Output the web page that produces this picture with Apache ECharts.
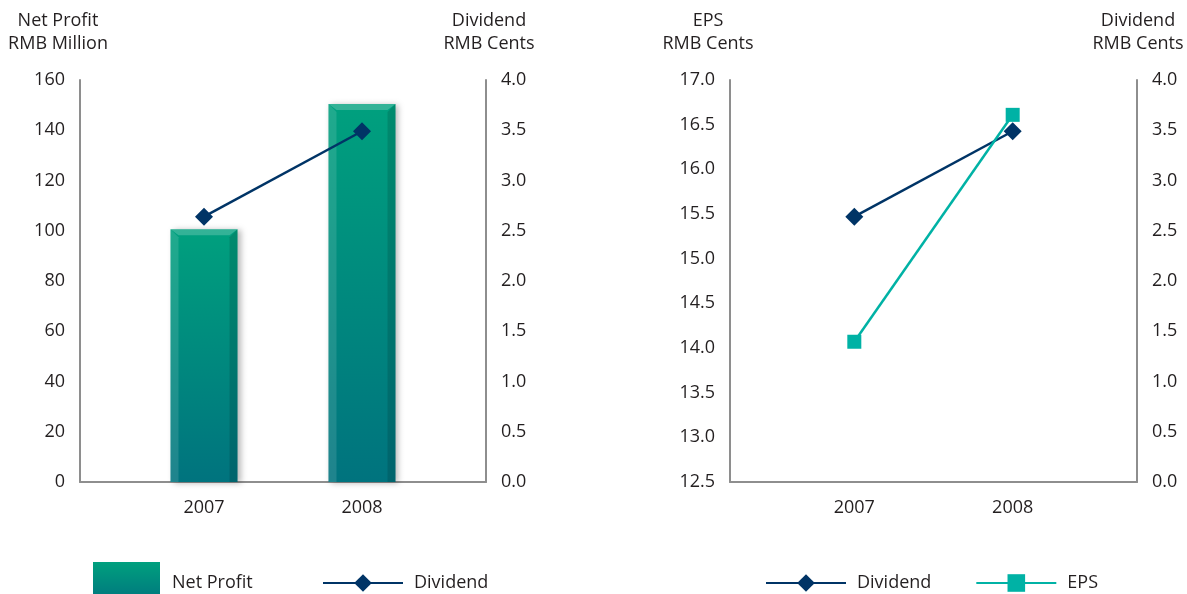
<!DOCTYPE html>
<html>
<head>
<meta charset="utf-8">
<script src="https://cdn.jsdelivr.net/npm/echarts@6/dist/echarts.min.js"></script>
<style>
  html, body { margin: 0; padding: 0; background: #ffffff; }
  #chart { width: 1187px; height: 594px; }
</style>
</head>
<body>
<div id="chart"></div>
<script>
// Financial highlights: net profit & dividend (left), EPS & dividend (right)
const years = ['2007', '2008'];
const netProfit = [100.6, 150.4];   // RMB million
const dividend = [2.64, 3.49];      // RMB cents
const eps = [14.07, 16.61];         // RMB cents

const leftProfitTicks = { min: 0, max: 160, interval: 20 };
const dividendTicks = { min: 0, max: 4, interval: 0.5 };
const epsTicks = { min: 12.5, max: 17, interval: 0.5 };

const FONT = '"Open Sans", "Noto Sans", sans-serif';
const FS = 18;
const TEXT = '#231f20';
const AXIS = '#8e8e8e';
const NAVY = '#003466';
const TEAL = '#00b2a5';

const chart = echarts.init(document.getElementById('chart'));

const barGradient = new echarts.graphic.LinearGradient(0, 0, 0, 1, [
  { offset: 0, color: '#00a07e' },
  { offset: 1, color: '#00737e' }
]);

// Bevelled bar drawn through the axis scale
function bevelBar(params, api) {
  const idx = api.value(0);
  const val = api.value(1);
  const topPt = api.coord([idx, val]);
  const basePt = api.coord([idx, 0]);
  const w = 67, b = 8;
  const l = topPt[0] - w / 2, r = topPt[0] + w / 2;
  const t = topPt[1], btm = basePt[1];
  return {
    type: 'group',
    children: [
      {
        type: 'rect',
        shape: { x: l, y: t, width: w, height: btm - t },
        style: {
          fill: new echarts.graphic.LinearGradient(0, 0, 0, 1, [
            { offset: 0, color: '#00a07e' },
            { offset: 1, color: '#00737e' }
          ]),
          shadowBlur: 6, shadowOffsetX: 3, shadowOffsetY: 1,
          shadowColor: 'rgba(0,0,0,0.28)'
        }
      },
      {
        type: 'polygon',
        shape: { points: [[l, t], [l + b, t + b], [l + b, btm], [l, btm]] },
        style: { fill: 'rgba(255,255,255,0.12)' }
      },
      {
        type: 'polygon',
        shape: { points: [[r, t], [r - b, t + b], [r - b, btm], [r, btm]] },
        style: { fill: 'rgba(0,0,0,0.13)' }
      },
      {
        type: 'polygon',
        shape: { points: [[l, t], [r, t], [r - b, t + b * 0.75], [l + b, t + b * 0.75]] },
        style: { fill: 'rgba(255,255,255,0.2)' }
      }
    ]
  };
}

function xAxisFor(gridIndex) {
  return {
    type: 'value',
    gridIndex: gridIndex,
    min: -0.785,
    max: 1.785,
    axisLine: { show: true, onZero: false, lineStyle: { color: AXIS, width: 2 } },
    axisTick: { show: false },
    splitLine: { show: false },
    axisLabel: {
      customValues: [0, 1],
      formatter: v => years[Math.round(v)] || '',
      color: TEXT, fontFamily: FONT, fontSize: FS, margin: 17
    }
  };
}

function yAxisFor(gridIndex, pos, ticks, name, decimals, namePad) {
  return {
    type: 'value',
    gridIndex: gridIndex,
    position: pos,
    min: ticks.min, max: ticks.max, interval: ticks.interval,
    name: name,
    nameLocation: 'end',
    nameGap: 25,
    nameTextStyle: {
      color: TEXT, fontFamily: FONT, fontSize: FS, lineHeight: 23,
      align: 'center', padding: namePad
    },
    axisLine: { show: true, onZero: false, lineStyle: { color: AXIS, width: 2 } },
    axisTick: { show: false },
    splitLine: { show: false },
    axisLabel: {
      formatter: v => v.toFixed(decimals),
      color: TEXT, fontFamily: FONT, fontSize: FS, margin: 15
    }
  };
}

const legendText = { color: TEXT, fontFamily: FONT, fontSize: FS };

chart.setOption({
  animation: false,
  backgroundColor: '#ffffff',
  grid: [
    { left: 80, right: 701, top: 80, bottom: 112 },
    { left: 730, right: 50, top: 80, bottom: 112 }
  ],
  xAxis: [xAxisFor(0), xAxisFor(1)],
  yAxis: [
    yAxisFor(0, 'left', leftProfitTicks, 'Net Profit\nRMB Million', 0, [0, 44, 0, 0]),
    yAxisFor(0, 'right', dividendTicks, 'Dividend\nRMB Cents', 1, [0, 0, 0, 6]),
    yAxisFor(1, 'left', epsTicks, 'EPS\nRMB Cents', 1, [0, 44, 0, 0]),
    yAxisFor(1, 'right', dividendTicks, 'Dividend\nRMB Cents', 1, [0, 0, 0, 2])
  ],
  legend: [
    {
      selectedMode: false,
      padding: 0,
      left: 93, top: 562,
      itemWidth: 67, itemHeight: 42,
      textStyle: Object.assign({ padding: [0, 0, 0, 7] }, legendText),
      data: [{ name: 'Net Profit', icon: 'rect', itemStyle: { color: barGradient } }]
    },
    {
      selectedMode: false,
      padding: 0,
      left: 322, top: 574,
      itemWidth: 80, itemHeight: 22,
      textStyle: Object.assign({ padding: [0, 0, 0, 6] }, legendText),
      data: ['Dividend']
    },
    {
      selectedMode: false,
      padding: 0,
      left: 765, top: 574,
      itemWidth: 80, itemHeight: 22, itemGap: 44,
      textStyle: Object.assign({ padding: [0, 0, 0, 6] }, legendText),
      data: ['Dividend', 'EPS']
    }
  ],
  series: [
    {
      name: 'Net Profit',
      type: 'custom',
      xAxisIndex: 0, yAxisIndex: 0,
      itemStyle: { color: barGradient },
      renderItem: bevelBar,
      encode: { x: 0, y: 1 },
      data: netProfit.map((v, i) => [i, v])
    },
    {
      name: 'Dividend',
      type: 'line',
      xAxisIndex: 0, yAxisIndex: 1,
      symbol: 'diamond', symbolSize: 18,
      lineStyle: { color: NAVY, width: 2.5 },
      itemStyle: { color: NAVY },
      data: dividend.map((v, i) => [i, v])
    },
    {
      name: 'Dividend',
      type: 'line',
      xAxisIndex: 1, yAxisIndex: 3,
      symbol: 'diamond', symbolSize: 18,
      lineStyle: { color: NAVY, width: 2.5 },
      itemStyle: { color: NAVY },
      data: dividend.map((v, i) => [i, v])
    },
    {
      name: 'EPS',
      type: 'line',
      xAxisIndex: 1, yAxisIndex: 2,
      symbol: 'rect', symbolSize: 14,
      lineStyle: { color: TEAL, width: 2.5 },
      itemStyle: { color: TEAL },
      data: eps.map((v, i) => [i, v])
    }
  ]
});
</script>
</body>
</html>
